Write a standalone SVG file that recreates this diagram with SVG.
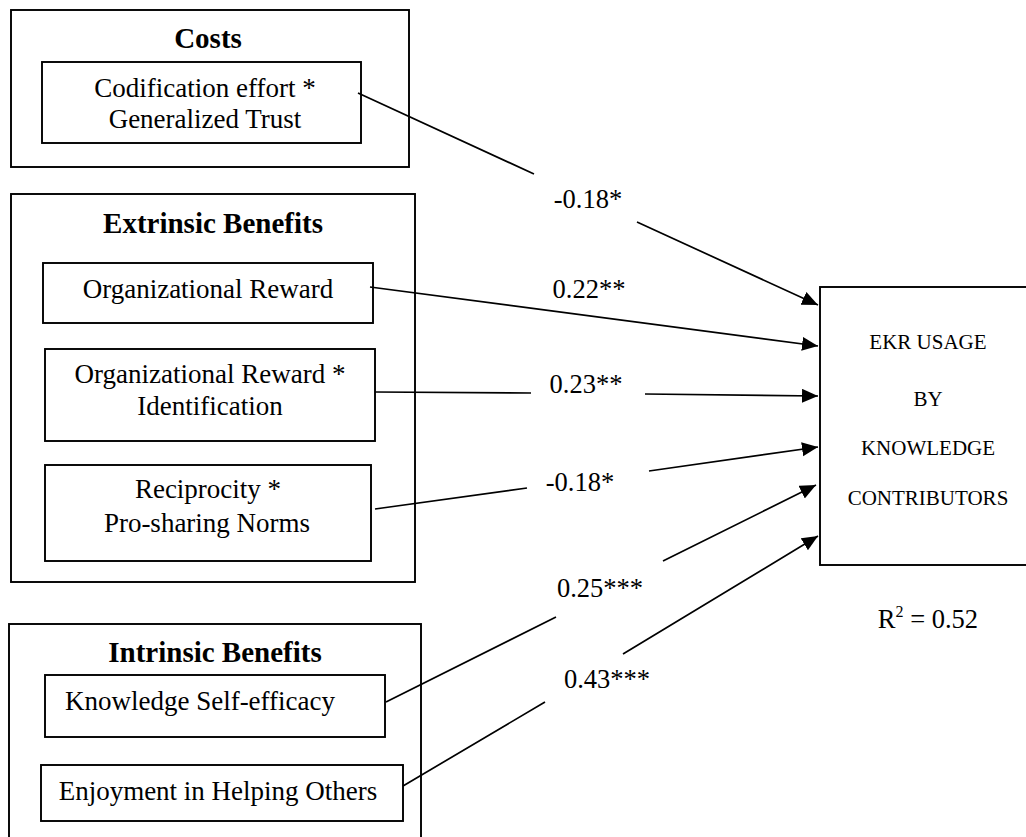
<svg xmlns="http://www.w3.org/2000/svg" width="1026" height="837" viewBox="0 0 1026 837">
<defs>
<style>
.box{fill:#fff;stroke:#000;stroke-width:1.9}
.grp{fill:none;stroke:#000;stroke-width:1.9}
.t{font-family:"Liberation Serif","Times New Roman",serif;font-size:27px;fill:#000;text-anchor:middle}
.h{font-family:"Liberation Serif","Times New Roman",serif;font-size:29px;font-weight:bold;fill:#000;text-anchor:middle}
.s{font-family:"Liberation Serif","Times New Roman",serif;font-size:21px;fill:#000;text-anchor:middle}
.lbl{font-family:"Liberation Serif","Times New Roman",serif;font-size:26.5px;fill:#000;text-anchor:middle}
.c{fill:none;stroke:#000;stroke-width:1.7;marker-end:url(#arr)}
</style>
<marker id="arr" markerUnits="userSpaceOnUse" markerWidth="17" markerHeight="15" refX="16" refY="7" orient="auto">
<path d="M0,0 L16,7 L0,14 Z" fill="#000"/>
</marker>
</defs>
<rect width="1026" height="837" fill="#fff"/>

<g id="costs">
<rect class="grp" x="11" y="10" width="398" height="157"/>
<text class="h" x="208" y="48">Costs</text>
<g id="codification">
<rect class="box" x="42" y="62" width="319" height="81"/>
<text class="t" x="205" y="97">Codification effort *</text>
<text class="t" x="205" y="128">Generalized Trust</text>
</g>
</g>

<g id="extrinsic">
<rect class="grp" x="11" y="194" width="404" height="388"/>
<text class="h" x="213" y="233">Extrinsic Benefits</text>
<g id="orgreward">
<rect class="box" x="43" y="263" width="330" height="60"/>
<text class="t" x="208" y="298">Organizational Reward</text>
</g>
<g id="orgreward-ident">
<rect class="box" x="45" y="349" width="330" height="92"/>
<text class="t" x="210" y="383">Organizational Reward *</text>
<text class="t" x="210" y="415">Identification</text>
</g>
<g id="reciprocity">
<rect class="box" x="45" y="465" width="326" height="96"/>
<text class="t" x="208" y="498">Reciprocity *</text>
<text class="t" x="207" y="532">Pro-sharing Norms</text>
</g>
</g>

<g id="intrinsic">
<rect class="grp" x="9" y="624" width="412" height="230"/>
<text class="h" x="215" y="662">Intrinsic Benefits</text>
<g id="selfefficacy">
<rect class="box" x="45" y="675" width="340" height="62"/>
<text class="t" x="200" y="710">Knowledge Self-efficacy</text>
</g>
<g id="enjoyment">
<rect class="box" x="41" y="765" width="362" height="56"/>
<text class="t" x="218" y="800">Enjoyment in Helping Others</text>
</g>
</g>

<g id="ekr">
<rect class="box" x="820" y="287" width="220" height="278"/>
<text class="s" x="928" y="349">EKR USAGE</text>
<text class="s" x="928" y="406">BY</text>
<text class="s" x="928" y="455">KNOWLEDGE</text>
<text class="s" x="928" y="505">CONTRIBUTORS</text>
</g>

<g id="r2">
<text class="lbl" x="928" y="628">R<tspan font-size="16" dy="-11">2</tspan><tspan dy="11"> = 0.52</tspan></text>
</g>

<g id="connectors">
<path class="c" d="M358,93 L534,174 M637,222 L818,305"/>
<path class="c" d="M370,287 L818,346"/>
<path class="c" d="M375,392 L531,393 M645,394 L818,396"/>
<path class="c" d="M375,509 L527,488 M649,471 L818,447"/>
<path class="c" d="M386,702 L556,617 M663,561 L816,485"/>
<path class="c" d="M403,786 L545,702 M623,654 L818,536"/>
</g>

<g id="labels">
<text class="lbl" x="588" y="208">-0.18*</text>
<text class="lbl" x="589" y="298">0.22**</text>
<text class="lbl" x="586" y="393">0.23**</text>
<text class="lbl" x="580" y="491">-0.18*</text>
<text class="lbl" x="600" y="597">0.25***</text>
<text class="lbl" x="607" y="688">0.43***</text>
</g>
</svg>
